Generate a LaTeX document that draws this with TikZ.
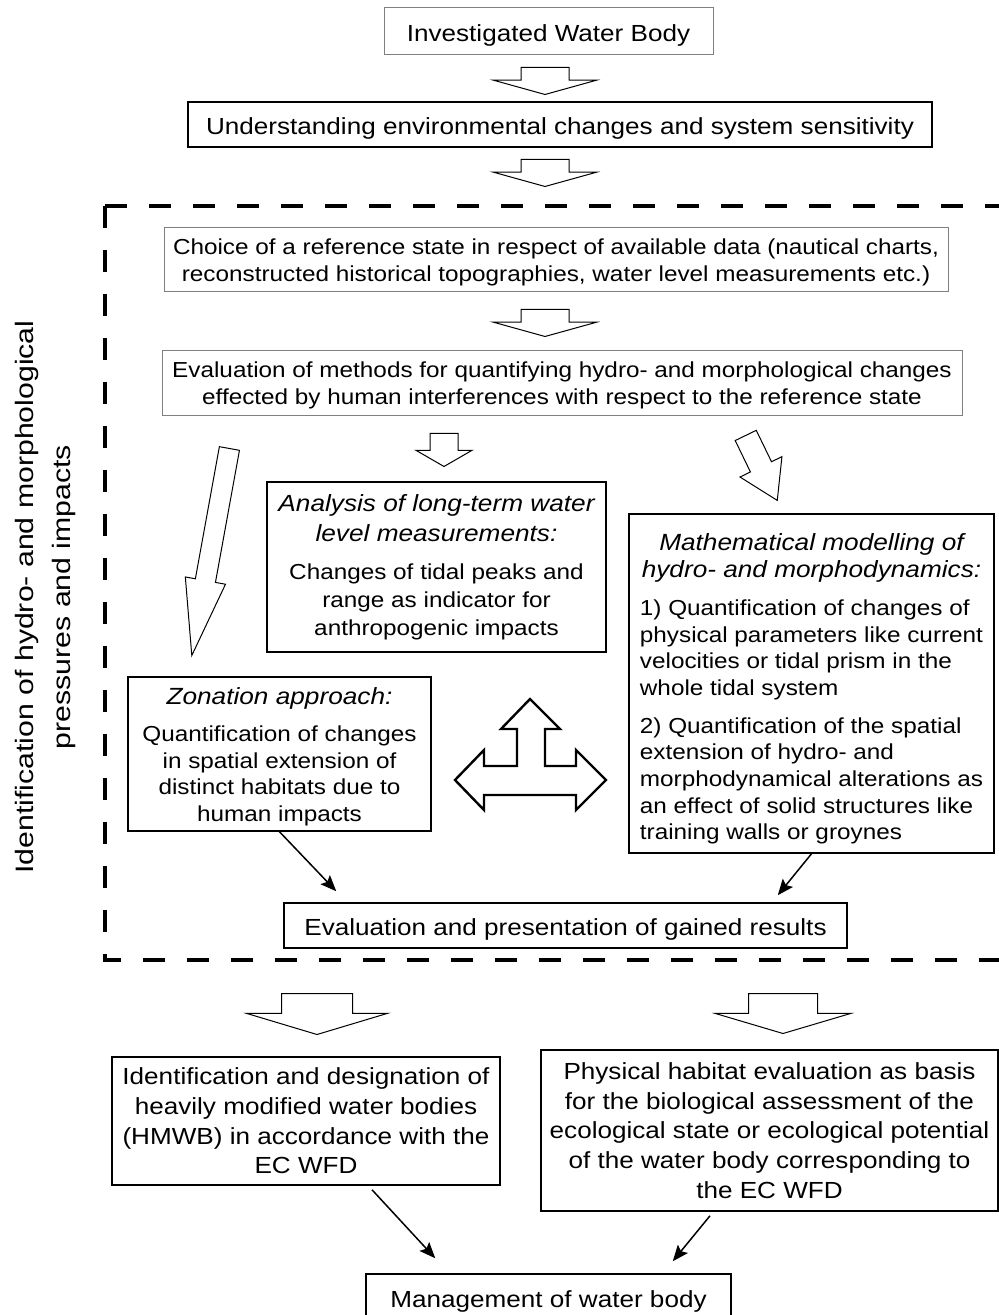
\documentclass[tikz,border=0pt]{standalone}
\usepackage{fontspec}
\setmainfont{Liberation Sans}[FakeStretch=1.12]
\newfontfamily\sidefont{Liberation Sans}[FakeStretch=1.2]
\usetikzlibrary{
    arrows.meta,
    shapes.arrows,
    positioning
}
\newcommand{\boxhead}[1]{{\fontsize{11.7}{13.35}\selectfont\itshape #1}}

\begin{document}
\begin{tikzpicture}[x=0.5pt, y=-0.5pt,
        box/.style={draw, line width=0.75pt, inner sep=0pt, align=center,
            font=\fontsize{11.65}{13.35}\selectfont},
        greybox/.style={box, draw=gray, line width=0.5pt},
        oneline/.style={text height=12.6pt, text depth=2.4pt},
        smalltext/.style={font=\fontsize{10.85}{13.35}\selectfont},
        widetext/.style={font=\fontsize{11.65}{14.8}\selectfont},
        hollow/.style={single arrow, draw, line width=0.5pt, inner xsep=0pt,
            single arrow head indent=0pt, anchor=tail},
        link/.style={line width=0.75pt, -{Stealth[length=8pt, width=6.5pt, inset=1.5pt]}},
        frame/.style={line width=2pt, dash pattern=on 11pt off 11pt}
    ]
    \useasboundingbox (0, 0) rectangle (999, 1315);

    % dashed frame
    \draw[frame] (105, 206) -- (1020, 206);
    \draw[frame] (105, 206) -- (105, 960) -- (1020, 960);

    \node[rotate=90, align=center, font=\sidefont\fontsize{12.6}{18.5}\selectfont] (side) at (45, 597) {
        Identification of hydro- and morphological\\
        pressures and impacts
    };

    \node[greybox, oneline, minimum width=164.5pt, minimum height=23.5pt] (water) at (548.5, 31.5) {Investigated Water Body};
    \node[box, oneline, minimum width=372pt, minimum height=22.5pt] (understanding) at (560, 124.5) {Understanding environmental changes and system sensitivity};
    \node[greybox, smalltext, minimum width=392pt, minimum height=32pt] (choice) at (556, 260) {
        \rule{0pt}{10.5pt}Choice of a reference state in respect of available data (nautical charts,\\
        reconstructed historical topographies, water level measurements etc.)
    };
    \node[greybox, smalltext, minimum width=400pt, minimum height=32.5pt] (methods) at (562, 383.5) {
        \rule{0pt}{9.5pt}Evaluation of methods for quantifying hydro- and morphological changes\\
        effected by human interferences with respect to the reference state
    };
    \node[box, smalltext, minimum width=169.5pt, minimum height=85pt] (analysis) at (436.5, 567) {
        \boxhead{Analysis of long-term water}\\[1.5pt]
        \boxhead{level measurements:}\\[6pt]
        Changes of tidal peaks and\\[0.5pt]
        range as indicator for\\[0.5pt]
        anthropogenic impacts
    };
    \node[box, smalltext, minimum width=182.5pt, minimum height=169.5pt] (modelling) at (811.5, 683.5) {
        \rule{0pt}{16pt}\boxhead{Mathematical modelling of}\\
        \boxhead{hydro- and morphodynamics:}\\[5.5pt]
        \begin{tabular}[t]{@{}l@{}}
            1) Quantification of changes of\\
            physical parameters like current\\
            velocities or tidal prism in the\\
            whole tidal system\\[5.5pt]
            2) Quantification of the spatial\\
            extension of hydro- and\\
            morphodynamical alterations as\\
            an effect of solid structures like\\
            training walls or groynes
        \end{tabular}
    };
    \node[box, smalltext, minimum width=151.5pt, minimum height=77pt] (zonation) at (279.5, 754) {
        \rule{0pt}{11.5pt}\boxhead{Zonation approach:}\\[5pt]
        Quantification of changes\\
        in spatial extension of\\
        distinct habitats due to\\
        human impacts
    };
    \node[box, oneline, minimum width=281.5pt, minimum height=22.5pt] (results) at (565.5, 925.5) {Evaluation and presentation of gained results};
    \node[box, widetext, minimum width=194pt, minimum height=64pt] (hmwb) at (306, 1121) {
        Identification and designation of\\
        heavily modified water bodies\\
        (HMWB) in accordance with the\\
        EC WFD
    };
    \node[box, widetext, minimum width=228.5pt, minimum height=80.5pt] (habitat) at (769.5, 1130.5) {
        Physical habitat evaluation as basis\\
        for the biological assessment of the\\
        ecological state or ecological potential\\
        of the water body corresponding to\\
        the EC WFD
    };
    \node[box, oneline, minimum width=182.5pt, minimum height=23pt] (management) at (548.5, 1297) {Management of water body};

    % hollow arrows
    \node[hollow, rotate=-90, inner ysep=11.75pt, minimum height=13.5pt, minimum width=51pt, single arrow head extend=13.75pt, single arrow tip angle=149] (down1) at (545, 67) {};
    \node[hollow, rotate=-90, inner ysep=11.75pt, minimum height=13.5pt, minimum width=51pt, single arrow head extend=13.75pt, single arrow tip angle=149] (down2) at (545, 159) {};
    \node[hollow, rotate=-90, inner ysep=11.75pt, minimum height=13.5pt, minimum width=51pt, single arrow head extend=13.75pt, single arrow tip angle=149] (down3) at (545, 309) {};
    \node[hollow, rotate=-90, inner ysep=6.75pt, minimum height=16.5pt, minimum width=27.5pt, single arrow head extend=7pt, single arrow tip angle=120] (down4) at (444, 433) {};
    \node[hollow, rotate=-64.1, inner ysep=5.6pt, minimum height=36.1pt, minimum width=22.85pt, single arrow head extend=5.8pt, single arrow tip angle=64] (right) at (745.5, 435) {};
    \node[hollow, rotate=-100.3, inner ysep=4.85pt, minimum height=105.2pt, minimum width=19.9pt, single arrow head extend=5.1pt, single arrow tip angle=30] (left) at (229.5, 448) {};
    \node[hollow, rotate=-90, inner ysep=17.5pt, minimum height=20.5pt, minimum width=70pt, single arrow head extend=17.5pt, single arrow tip angle=146.6] (down5) at (317, 993) {};
    \node[hollow, rotate=-90, inner ysep=17pt, minimum height=20pt, minimum width=67.5pt, single arrow head extend=16.75pt, single arrow tip angle=147] (down6) at (783, 993) {};

    % three-way arrow
    \draw[line width=1.2pt] (530, 699) -- (560, 729) -- (545, 729) -- (545, 766) -- (576, 766)
        -- (576, 750) -- (606, 780) -- (576, 810) -- (576, 795) -- (484, 795) -- (484, 810)
        -- (455, 780) -- (484, 750) -- (484, 766) -- (517, 766) -- (517, 729) -- (501, 729) -- cycle;

    \draw[link] (zonation.south) -- ([shift={(26.5pt, 5.5pt)}]results.north west);
    \draw[link] (modelling.south) -- ([shift={(-35pt, 3.5pt)}]results.north east);
    \draw[link] ([shift={(33pt, -2pt)}]hmwb.south) -- ([shift={(35pt, 7.5pt)}]management.north west);
    \draw[link] ([shift={(-29.75pt, -2pt)}]habitat.south) -- ([shift={(-29.5pt, 6pt)}]management.north east);
\end{tikzpicture}
\end{document}
